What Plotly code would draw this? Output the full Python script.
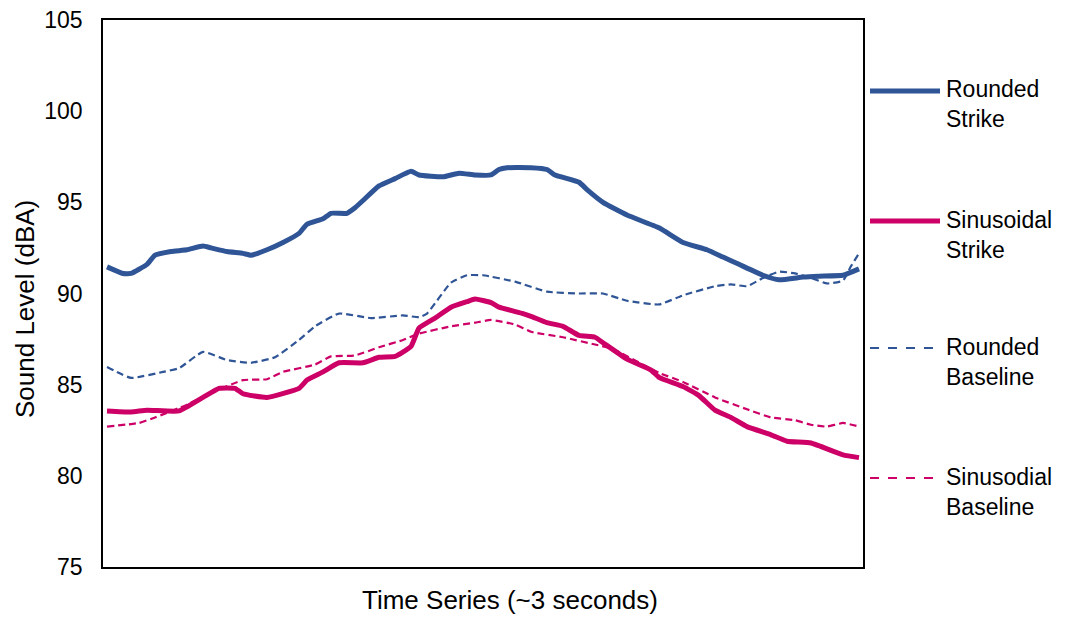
import plotly.graph_objects as go

# ---- data (sample index along ~3 s time series, 0..94) ----
rs_x = [0, 2, 3, 5, 6, 8, 10, 12, 13, 15, 17, 18, 20, 22, 24, 25, 27, 28, 30, 31, 32, 34, 36, 38, 39,
        42, 44, 46, 48, 49, 50, 53, 55, 56, 59, 60, 62, 65, 69, 72, 75, 77, 79, 82, 84, 87, 89, 92, 94]
rs_y = [91.46, 91.1, 91.1, 91.6, 92.1, 92.3, 92.4, 92.6, 92.5, 92.3, 92.2, 92.1, 92.4, 92.8, 93.3, 93.8,
        94.1, 94.4, 94.4, 94.7, 95.1, 95.9, 96.3, 96.7, 96.5, 96.4, 96.6, 96.5, 96.5, 96.8, 96.9, 96.9,
        96.8, 96.5, 96.1, 95.7, 95.0, 94.3, 93.6, 92.8, 92.4, 92.0, 91.6, 91.0, 90.75, 90.9, 90.95, 91.0, 91.35]

ss_x = [0, 3, 5, 9, 12, 14, 16, 17, 20, 24, 25, 27, 29, 32, 34, 36, 38, 39, 41, 43, 45, 46, 48, 49,
        52, 53, 55, 57, 59, 61, 62, 65, 68, 69, 72, 74, 76, 78, 80, 83, 85, 88, 92, 94]
ss_y = [83.56, 83.5, 83.6, 83.56, 84.3, 84.8, 84.8, 84.5, 84.3, 84.8, 85.25, 85.7, 86.2, 86.2, 86.5,
        86.55, 87.1, 88.1, 88.65, 89.25, 89.55, 89.7, 89.5, 89.25, 88.9, 88.75, 88.4, 88.2, 87.7, 87.6,
        87.3, 86.4, 85.8, 85.4, 84.9, 84.4, 83.6, 83.2, 82.7, 82.25, 81.9, 81.8, 81.15, 81.0]

rb_x = [0, 3, 7, 9, 12, 15, 18, 21, 24, 26, 29, 33, 37, 39, 40, 43, 45, 47, 51, 55, 59, 62, 65, 69,
        72, 76, 78, 80, 82, 84, 86, 88, 90, 92, 93, 94]
rb_y = [85.97, 85.37, 85.7, 85.9, 86.8, 86.35, 86.2, 86.5, 87.45, 88.2, 88.9, 88.65, 88.8, 88.7, 88.9,
        90.6, 91.0, 91.0, 90.65, 90.1, 90.0, 90.0, 89.6, 89.4, 89.9, 90.4, 90.5, 90.4, 90.85, 91.2, 91.1,
        90.85, 90.55, 90.7, 91.5, 92.2]

sb_x = [0, 4, 6, 10, 13, 17, 20, 22, 26, 28, 31, 34, 37, 39, 43, 46, 48, 51, 53, 57, 61, 63, 69, 72,
        76, 80, 83, 86, 88, 90, 92, 94]
sb_y = [82.7, 82.9, 83.2, 83.9, 84.55, 85.25, 85.3, 85.7, 86.1, 86.55, 86.6, 87.05, 87.45, 87.8, 88.2,
        88.4, 88.55, 88.3, 87.9, 87.6, 87.2, 87.0, 85.65, 85.15, 84.3, 83.65, 83.2, 83.05, 82.8, 82.7,
        82.9, 82.7]

names = ["Rounded<br>Strike", "Sinusoidal<br>Strike", "Rounded<br>Baseline", "Sinusodial<br>Baseline"]
y_ticks = [75, 80, 85, 90, 95, 100, 105]

BLUE = "#2F5597"
PINK = "#CC0066"
FONT = "Arial, Liberation Sans, sans-serif"

W, H = 1065, 618
L, R, T, B = 103, 863, 20, 567


def px(x):
    return (x - L) / (R - L)


def py(y):
    return (B - y) / (B - T)


fig = go.Figure()
series = [
    (rb_x, rb_y, BLUE, 2.2, "7px,4px"),
    (sb_x, sb_y, PINK, 2.2, "7px,4px"),
    (rs_x, rs_y, BLUE, 5, "solid"),
    (ss_x, ss_y, PINK, 5, "solid"),
]
for xs, ys, c, w, d in series:
    fig.add_trace(go.Scatter(x=xs, y=ys, mode="lines", showlegend=False, hoverinfo="skip",
                             line=dict(color=c, width=w, dash=d, shape="spline", smoothing=0.4)))

# manual legend
legend_items = [
    (names[0], BLUE, 5, "solid", 91),
    (names[1], PINK, 5, "solid", 221),
    (names[2], BLUE, 2.2, "dash", 348),
    (names[3], PINK, 2.2, "dash", 478),
]
shapes = []
annotations = []
for name, c, w, d, yy in legend_items:
    shapes.append(dict(type="line", xref="paper", yref="paper", x0=px(870), x1=px(940), y0=py(yy), y1=py(yy),
                       line=dict(color=c, width=w, dash=d)))
    annotations.append(dict(xref="paper", yref="paper", x=px(944), y=py(yy + 13.5), text=name,
                            showarrow=False, xanchor="left", yanchor="middle", align="left",
                            font=dict(family=FONT, size=23, color="black")))

annotations.append(dict(xref="paper", yref="paper", x=px(510), y=py(600), text="Time Series (~3 seconds)",
                        showarrow=False, xanchor="center", yanchor="middle",
                        font=dict(family=FONT, size=26, color="black")))
annotations.append(dict(xref="paper", yref="paper", x=px(25), y=py(309), text="Sound Level (dBA)",
                        showarrow=False, xanchor="center", yanchor="middle", textangle=-90,
                        font=dict(family=FONT, size=26, color="black")))

fig.update_layout(
    width=W, height=H,
    margin=dict(l=L, r=W - R, t=T, b=H - B, pad=0, autoexpand=False),
    paper_bgcolor="white", plot_bgcolor="white",
    shapes=shapes, annotations=annotations,
    font=dict(family=FONT, color="black"),
    xaxis=dict(range=[-0.5, 94.5], showticklabels=False, showgrid=False, zeroline=False, automargin=False,
               showline=True, mirror=True, linecolor="black", linewidth=1.5, ticks=""),
    yaxis=dict(range=[75, 105], tickvals=y_ticks, showgrid=False, zeroline=False, automargin=False,
               showline=True, mirror=True, linecolor="black", linewidth=1.5, ticks="",
               ticklabelstandoff=14, tickfont=dict(family=FONT, size=23, color="black")),
)

fig.write_html("out.html", config={"displayModeBar": False},
               post_script="document.body.style.margin='0';document.body.style.overflow='hidden';")
